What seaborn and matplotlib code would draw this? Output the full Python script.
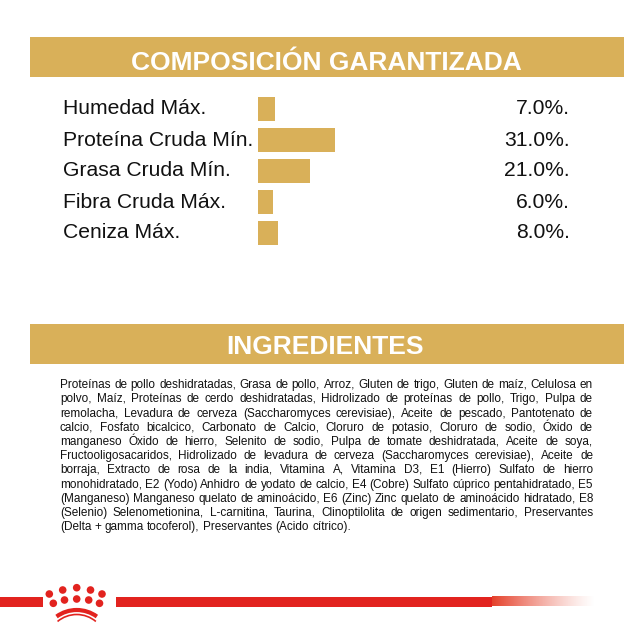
import math
import numpy as np
import pandas as pd
import matplotlib
matplotlib.use('Agg')
import matplotlib.pyplot as plt
import seaborn as sns
from matplotlib.patches import Rectangle, Circle, Arc
from matplotlib.font_manager import FontProperties
from matplotlib.transforms import blended_transform_factory, ScaledTranslation

# data
nutrientes = ['Humedad Máx.', 'Proteína Cruda Mín.', 'Grasa Cruda Mín.',
              'Fibra Cruda Máx.', 'Ceniza Máx.']
valores = [7.0, 31.0, 21.0, 6.0, 8.0]

titulo_1 = 'COMPOSICIÓN GARANTIZADA'
titulo_2 = 'INGREDIENTES'

ingredientes = [
    'Proteínas de pollo deshidratadas, Grasa de pollo, Arroz, Gluten de trigo, Gluten de maíz, Celulosa en',
    'polvo, Maíz, Proteínas de cerdo deshidratadas, Hidrolizado de proteínas de pollo, Trigo, Pulpa de',
    'remolacha, Levadura de cerveza (Saccharomyces cerevisiae), Aceite de pescado, Pantotenato de',
    'calcio, Fosfato bicalcico, Carbonato de Calcio, Cloruro de potasio, Cloruro de sodio, Óxido de',
    'manganeso Óxido de hierro, Selenito de sodio, Pulpa de tomate deshidratada, Aceite de soya,',
    'Fructooligosacaridos, Hidrolizado de levadura de cerveza (Saccharomyces cerevisiae), Aceite de',
    'borraja, Extracto de rosa de la india, Vitamina A, Vitamina D3, E1 (Hierro) Sulfato de hierro',
    'monohidratado, E2 (Yodo) Anhidro de yodato de calcio, E4 (Cobre) Sulfato cúprico pentahidratado, E5',
    '(Manganeso) Manganeso quelato de aminoácido, E6 (Zinc) Zinc quelato de aminoácido hidratado, E8',
    '(Selenio) Selenometionina, L-carnitina, Taurina, Clinoptilolita de origen sedimentario, Preservantes',
    '(Delta + gamma tocoferol), Preservantes (Acido cítrico).',
]

GOLD = '#D9B059'
RED = '#E2231F'
FONT = 'Liberation Sans'
INK = '#111111'

W, H = 640, 638
fig = plt.figure(figsize=(6.4, 6.38), dpi=100)
fig.patch.set_facecolor('white')

# background axes in pixel units (y down)
bg = fig.add_axes([0, 0, 1, 1])
bg.set_xlim(0, W)
bg.set_ylim(H, 0)
bg.axis('off')

# header bands
bg.add_patch(Rectangle((29.5, 37), 594.5, 40, color=GOLD, lw=0))
bg.add_patch(Rectangle((29.5, 324), 594.5, 40, color=GOLD, lw=0))
bg.text(326.5, 69.5, titulo_1, ha='center', va='baseline', color='white',
        fontsize=19, fontweight='bold', family=FONT)
bg.text(325, 353.5, titulo_2, ha='center', va='baseline', color='white',
        fontsize=19, fontweight='bold', family=FONT)

# bars
df = pd.DataFrame({'nutriente': nutrientes, 'valor': valores})
ax = fig.add_axes([258 / W, 1 - 248.5 / H, 98.8 / W, 155 / H])
sns.barplot(data=df, x='valor', y='nutriente', orient='h', color=GOLD,
            saturation=1, width=0.774, errorbar=None, ax=ax)
ax.set_xlim(0, 40)
ax.set_ylim(4.5, -0.5)
ax.axis('off')

# row labels and values, x in pixels, y in the bar axes categories
trans = blended_transform_factory(bg.transData, ax.transData) + \
    ScaledTranslation(0, -0.055, fig.dpi_scale_trans)
for i, (nom, val) in enumerate(zip(nutrientes, valores)):
    bg.text(63, i, nom, transform=trans, ha='left', va='baseline',
            fontsize=15.2, family=FONT, color=INK)
    bg.text(570, i, f'{val:.1f}%.', transform=trans, ha='right', va='baseline',
            fontsize=15.2, family=FONT, color=INK)

# justified ingredients paragraph
renderer = fig.canvas.get_renderer()
x0, x1 = 60, 593

# size so that the first line fits with plain spaces
prueba = bg.text(0, 0, ingredientes[0], fontsize=10, family=FONT)
fs = 10 * (x1 - x0 - 2) / prueba.get_window_extent(renderer).width
prueba.remove()
prop = FontProperties(family=FONT, size=fs)

t1 = bg.text(0, 0, 'a a', fontsize=fs, family=FONT)
t2 = bg.text(0, 0, 'aa', fontsize=fs, family=FONT)
espacio = t1.get_window_extent(renderer).width - t2.get_window_extent(renderer).width
t1.remove()
t2.remove()

for i, linea in enumerate(ingredientes):
    y = 388.25 + 14.2 * i
    palabras = linea.split(' ')
    objs = []
    for p in palabras:
        # keep baselines on the same pixel row whatever the word's descent
        d = renderer.get_text_width_height_descent(p, prop, ismath=False)[2]
        objs.append(bg.text(0, y + math.floor(d) - d, p, ha='left', va='baseline',
                            fontsize=fs, family=FONT, color=INK))
    anchos = [o.get_window_extent(renderer).width for o in objs]
    if i == len(ingredientes) - 1:
        gap = espacio
    else:
        gap = (x1 - x0 - sum(anchos)) / (len(palabras) - 1)
    x = x0
    for o, w in zip(objs, anchos):
        o.set_x(x)
        x += w + gap

# red line with crown
ly = 601.5
bg.plot([0, 42.7], [ly, ly], color=RED, lw=7.2, solid_capstyle='butt')
bg.plot([115.6, 492], [ly, ly], color=RED, lw=7.2, solid_capstyle='butt')
grad = np.zeros((1, 200, 4))
grad[..., 0:3] = matplotlib.colors.to_rgb('#E5402A')
grad[0, :, 3] = np.linspace(1, 0, 200) ** 1.3
bg.imshow(grad, extent=(492, 596, ly + 5, ly - 5), aspect='auto',
          interpolation='bilinear', zorder=2)
bg.set_xlim(0, W)
bg.set_ylim(H, 0)

puntos = [(49.3, 594), (62.7, 590), (76.7, 587.7), (90.5, 590), (102, 594),
          (53.3, 603.3), (64.5, 600), (76.7, 599), (88.7, 600), (99.5, 603.3)]
for cx, cy in puntos:
    bg.add_patch(Circle((cx, cy), 3.8, color=RED, lw=0))
bg.add_patch(Arc((76.7, 644.3), 68.6, 68.6, theta1=270 - 36, theta2=270 + 36,
                 color=RED, lw=3.0))
bg.add_patch(Arc((76.7, 644.3), 59.6, 59.6, theta1=270 - 40, theta2=270 + 40,
                 color=RED, lw=1.2))

fig.savefig('out.png', dpi=100, facecolor='white')
